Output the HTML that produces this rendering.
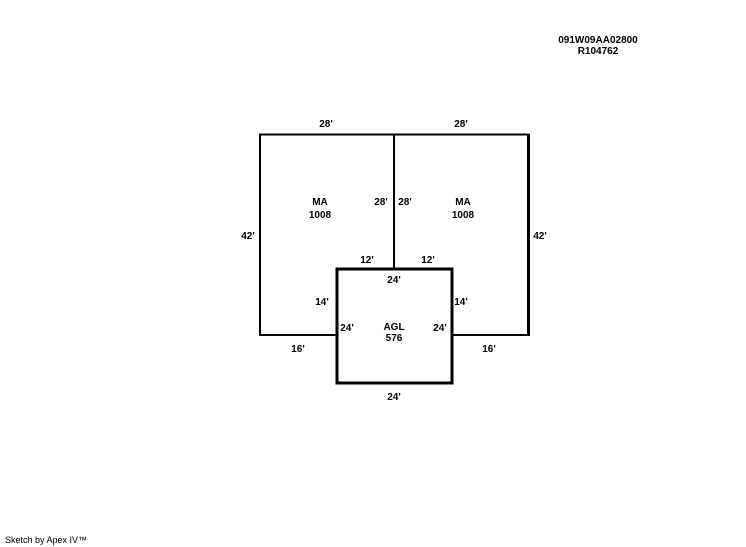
<!DOCTYPE html>
<html><head><meta charset="utf-8"><style>
html,body{margin:0;padding:0;background:#fff;}
svg{display:block;}
text{font-family:"Liberation Sans",Arial,sans-serif;font-weight:bold;font-size:10px;fill:#000;text-anchor:middle;}
</style></head><body>
<svg width="746" height="547" viewBox="0 0 746 547" xmlns="http://www.w3.org/2000/svg">
<g fill="none" stroke="#000">
<path d="M337 335 H260 V134.5 H528.5 V335 H452" stroke-width="2"/>
<line x1="528.5" y1="134" x2="528.5" y2="336" stroke-width="3"/>
<line x1="394" y1="134" x2="394" y2="269" stroke-width="2"/>
<rect x="337" y="269" width="115" height="114" stroke-width="3"/>
</g>
<text x="598" y="43">091W09AA02800</text>
<text x="598" y="54">R104762</text>
<text x="326" y="127">28'</text>
<text x="461" y="127">28'</text>
<text x="248" y="239">42'</text>
<text x="540" y="239">42'</text>
<text x="320" y="205">MA</text>
<text x="320" y="218">1008</text>
<text x="463" y="205">MA</text>
<text x="463" y="218">1008</text>
<text x="381" y="205">28'</text>
<text x="405" y="205">28'</text>
<text x="367" y="263">12'</text>
<text x="428" y="263">12'</text>
<text x="394" y="283">24'</text>
<text x="322" y="305">14'</text>
<text x="461" y="305">14'</text>
<text x="347" y="331">24'</text>
<text x="440" y="331">24'</text>
<text x="394" y="330">AGL</text>
<text x="394" y="341">576</text>
<text x="298" y="352">16'</text>
<text x="489" y="352">16'</text>
<text x="394" y="400">24'</text>
<text x="5" y="543" style="text-anchor:start;font-weight:normal;font-size:9px">Sketch by Apex IV™</text>
</svg>
</body></html>
